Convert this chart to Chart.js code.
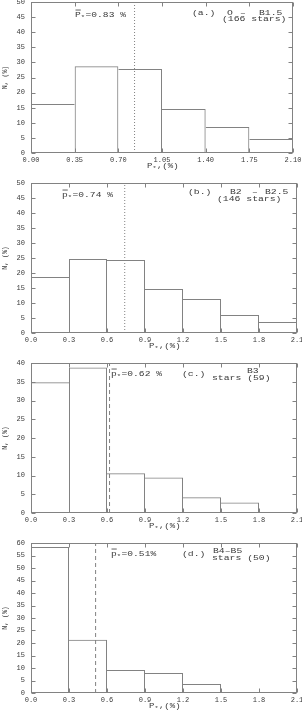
<!DOCTYPE html>
<html><head><meta charset="utf-8">
<script src="https://cdn.jsdelivr.net/npm/chart.js@4/dist/chart.umd.min.js"></script>
<style>
html,body{margin:0;padding:0;background:#fff;width:302px;height:710px;overflow:hidden}
canvas{position:absolute;left:0}
</style></head>
<body>
<canvas id="c1"></canvas><canvas id="c2"></canvas><canvas id="c3"></canvas><canvas id="c4"></canvas>
<script>
// ---- data ----
const edgesA = [0, 0.35, 0.70, 1.05, 1.40, 1.75, 2.10];
const percentA = [16.2, 28.7, 27.8, 14.6, 8.6, 4.6];
const meanA = 0.83;
const labelsA = ['(a.)', 'O', '–', 'B1.5', '(166 stars)'];

const edgesB = [0, 0.3, 0.6, 0.9, 1.2, 1.5, 1.8, 2.1];
const percentB = [18.7, 24.7, 24.3, 14.7, 11.3, 6.0, 3.7];
const meanB = 0.74;
const labelsB = ['(b.)', 'B2', '–', 'B2.5', '(146 stars)'];

const edgesC = [0, 0.3, 0.6, 0.9, 1.2, 1.5, 1.8, 2.1];
const percentC = [34.9, 38.8, 10.6, 9.5, 4.2, 2.8, 0];
const meanC = 0.62;
const labelsC = ['(c.)', 'B3', 'stars (59)'];

const edgesD = [0, 0.3, 0.6, 0.9, 1.2, 1.5, 1.8, 2.1];
const percentD = [58.4, 21.3, 9.2, 8.0, 3.6, 0, 0];
const meanD = 0.51;
const labelsD = ['(d.)', 'B4–B5', 'stars (50)'];

const yMaxes = [50, 50, 40, 60];
const yStep = 5;
const yTitle = 'N, (%)';

// ---- styling ----
const LINE = '#828282';
const TEXT = '#3a3a3a';
const FONT = 'Liberation Mono';
const XH = 15;

function drawText(ctx, text, x, y, size, sx) {
  ctx.save();
  ctx.font = size + 'px "' + FONT + '"';
  ctx.textBaseline = 'middle';
  ctx.textAlign = 'left';
  ctx.fillStyle = TEXT;
  ctx.translate(x, y);
  ctx.scale(sx, 1);
  ctx.fillText(text, 0, 0);
  const w = ctx.measureText(text).width * sx;
  ctx.restore();
  return w;
}

function drawPStar(ctx, sym, rest, x, y, size, sx, bar) {
  let cx = x;
  const wP = drawText(ctx, sym, cx, y, size, sx);
  if (bar) {
    ctx.save();
    ctx.strokeStyle = TEXT; ctx.lineWidth = 0.8;
    ctx.beginPath(); ctx.moveTo(cx + 0.5, y - size * 0.62); ctx.lineTo(cx + wP, y - size * 0.62); ctx.stroke();
    ctx.restore();
  }
  cx += wP;
  cx += drawText(ctx, '*', cx, y + size * 0.3, size * 0.75, sx);
  drawText(ctx, rest, cx + 0.5, y, size, sx);
}

function makePanel(id, p) {
  const canvas = document.getElementById(id);
  canvas.style.top = p.canvasTop + 'px';
  canvas.width = 302; canvas.height = p.canvasH;
  const T = p.canvasTop;
  const centers = p.values.map((v, i) => (p.edges[i] + p.edges[i + 1]) / 2);
  const vals = p.values;

  const frame = {
    id: 'frame',
    afterDraw(chart) {
      const ctx = chart.ctx;
      const a = chart.chartArea;
      const xs = chart.scales.x, ys = chart.scales.y;
      const L = Math.round(a.left) + 0.5, R = Math.round(a.right) - 0.5;
      const Tp = Math.round(a.top) + 0.5, B = Math.round(a.bottom) - 0.5;
      ctx.save();
      ctx.strokeStyle = LINE; ctx.lineWidth = 1;
      ctx.strokeRect(L, Tp, R - L, B - Tp);
      ctx.beginPath();
      xs.ticks.forEach(t => {
        const px = Math.round(xs.getPixelForValue(t.value)) + 0.5;
        ctx.moveTo(px, B); ctx.lineTo(px, B - 4);
        ctx.moveTo(px, Tp); ctx.lineTo(px, Tp + 4);
      });
      ys.ticks.forEach(t => {
        const py = Math.round(ys.getPixelForValue(t.value)) + 0.5;
        ctx.moveTo(L, py); ctx.lineTo(L + 4, py);
        ctx.moveTo(R, py); ctx.lineTo(R - 4, py);
      });
      ctx.stroke();
      ctx.restore();
      // x-axis title
      const cxm = (a.left + a.right) / 2 - 15;
      drawPStar(ctx, 'P', ',(%)', cxm, a.bottom + 13, 7.5, 1.2, false);
      // mean label
      drawPStar(ctx, p.meanSym, p.meanText, p.meanPos[0], p.meanPos[1] - T, 8, 1.2, true);
      // annotations
      p.notes.forEach(n => drawText(ctx, n[0], n[1], n[2] - T, 8, 1.22));
    }
  };

  new Chart(canvas, {
    type: 'bar',
    data: {
      datasets: [
        {
          type: 'line',
          data: [{x: p.mean, y: 0}, {x: p.mean, y: p.yMax}],
          borderColor: LINE, borderWidth: 1, borderDash: p.dash,
          pointRadius: 0, fill: false
        },
        {
          type: 'bar',
          data: centers.map((c, i) => ({x: c, y: vals[i]})),
          backgroundColor: 'rgba(0,0,0,0)',
          borderColor: LINE,
          inflateAmount: 0,
          borderSkipped: false,
          barPercentage: 1, categoryPercentage: 1,
          borderWidth: ctx => {
            const i = ctx.dataIndex, h = vals[i];
            if (!h) return 0;
            const prev = i > 0 ? vals[i - 1] : 0;
            const next = i < vals.length - 1 ? vals[i + 1] : 0;
            return {top: 1, bottom: 0, left: h >= prev ? 1 : 0, right: h > next ? 1 : 0};
          }
        }
      ]
    },
    options: {
      responsive: false, animation: false, devicePixelRatio: 1,
      layout: {
        autoPadding: false,
        padding: {top: p.area.top - T, left: 0, right: 302 - p.area.right,
                  bottom: p.canvasH - (p.area.bottom - T) - XH}
      },
      plugins: {legend: {display: false}, tooltip: {enabled: false}},
      scales: {
        x: {
          type: 'linear', min: 0, max: p.edges[p.edges.length - 1], offset: false,
          grid: {display: false, drawTicks: false}, border: {display: false},
          afterBuildTicks: s => { s.ticks = p.edges.map(v => ({value: v})); },
          ticks: {callback: v => v.toFixed(p.dec), font: {family: FONT, size: 7}, color: TEXT,
                  maxRotation: 0, autoSkip: false, padding: 3},
          afterFit: s => { s.height = XH; s.paddingLeft = 0; s.paddingRight = 0; }
        },
        y: {
          min: 0, max: p.yMax,
          grid: {display: false, drawTicks: false}, border: {display: false},
          ticks: {stepSize: yStep, font: {family: FONT, size: 7}, color: TEXT, padding: 6},
          title: {display: true, text: yTitle, font: {family: FONT, size: 6.5}, color: TEXT,
                  padding: {top: 1, bottom: 0}},
          afterFit: s => { s.width = p.area.left; s.paddingTop = 0; s.paddingBottom = 0; }
        }
      }
    },
    plugins: [frame]
  });
}

makePanel('c1', {canvasTop: 0, canvasH: 175, area: {top: 2, bottom: 153, left: 31, right: 293},
  edges: edgesA, values: percentA, mean: meanA, yMax: yMaxes[0], dec: 2, dash: [1, 2],
  meanSym: 'P', meanText: '=0.83 %', meanPos: [75, 15],
  notes: [[labelsA[0], 192, 13], [labelsA[1], 227, 13], [labelsA[2], 240, 13], [labelsA[3], 259, 13], [labelsA[4], 222, 19]]});

makePanel('c2', {canvasTop: 175, canvasH: 180, area: {top: 183, bottom: 333, left: 31, right: 297},
  edges: edgesB, values: percentB, mean: meanB, yMax: yMaxes[1], dec: 1, dash: [1, 2],
  meanSym: 'p', meanText: '=0.74 %', meanPos: [62, 195],
  notes: [[labelsB[0], 188, 192], [labelsB[1], 230, 192], [labelsB[2], 252, 192], [labelsB[3], 265, 192], [labelsB[4], 217, 199]]});

makePanel('c3', {canvasTop: 355, canvasH: 180, area: {top: 363, bottom: 513, left: 31, right: 297},
  edges: edgesC, values: percentC, mean: meanC, yMax: yMaxes[2], dec: 1, dash: [4, 3],
  meanSym: 'p', meanText: '=0.62 %', meanPos: [111, 374],
  notes: [[labelsC[0], 182, 374], [labelsC[1], 247, 371], [labelsC[2], 212, 378]]});

makePanel('c4', {canvasTop: 535, canvasH: 175, area: {top: 543, bottom: 693, left: 31, right: 297},
  edges: edgesD, values: percentD, mean: meanD, yMax: yMaxes[3], dec: 1, dash: [4, 3],
  meanSym: 'p', meanText: '=0.51%', meanPos: [111, 554],
  notes: [[labelsD[0], 182, 554], [labelsD[1], 213, 551], [labelsD[2], 212, 558]]});
</script>
</body></html>
